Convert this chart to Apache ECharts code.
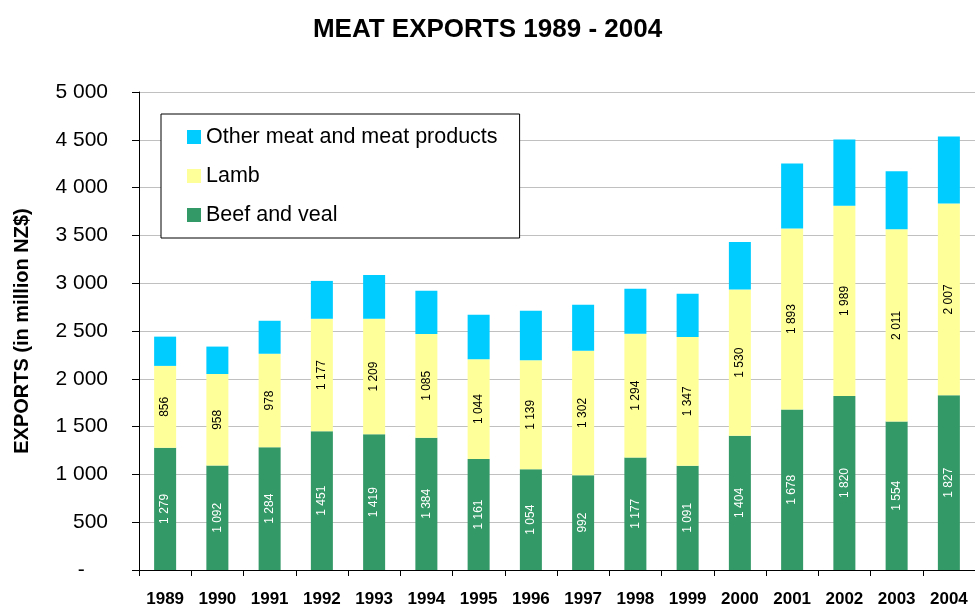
<!DOCTYPE html>
<html>
<head>
<meta charset="utf-8">
<title>Meat exports 1989 - 2004</title>
<script src="https://cdn.jsdelivr.net/npm/echarts@6/dist/echarts.min.js"></script>
<style>
  html, body { margin: 0; padding: 0; background: #fff; }
  #chart { width: 975px; height: 608px; }
</style>
</head>
<body>
<div id="chart"></div>
<script>
// data (million NZ$)
const years = ['1989', '1990', '1991', '1992', '1993', '1994', '1995', '1996',
  '1997', '1998', '1999', '2000', '2001', '2002', '2003', '2004']
const beefVeal = [1279, 1092, 1284, 1451, 1419, 1384, 1161, 1054, 992, 1177, 1091, 1404, 1678, 1820, 1554, 1827]
const lamb = [856, 958, 978, 1177, 1209, 1085, 1044, 1139, 1302, 1294, 1347, 1530, 1893, 1989, 2011, 2007]
// not labelled in the picture
const otherMeat = [306, 287, 345, 396, 459, 451, 465, 519, 480, 470, 451, 496, 682, 694, 605, 701]

const FONT = 'Arial, "Liberation Sans", sans-serif'

// 1279 -> "1 279"
function spaced (v) {
  return String(v).replace(/\B(?=(\d{3})+(?!\d))/g, ' ')
}

const chart = echarts.init(document.getElementById('chart'))

const option = {
  backgroundColor: '#fff',
  animation: false,
  title: {
    text: 'MEAT EXPORTS 1989 - 2004',
    left: 'center',
    top: 12,
    textStyle: { fontFamily: FONT, fontSize: 26, fontWeight: 'bold', color: '#000' }
  },
  legend: {
    data: ['Other meat and meat products', 'Lamb', 'Beef and veal'],
    orient: 'vertical',
    left: 161,
    top: 114,
    padding: [12, 22, 12, 26],
    itemGap: 17,
    itemWidth: 14,
    itemHeight: 14,
    icon: 'rect',
    borderColor: '#000',
    borderWidth: 1,
    backgroundColor: '#fff',
    textStyle: { fontFamily: FONT, fontSize: 21.5, color: '#000' }
  },
  grid: {
    left: 139,
    top: 92,
    width: 839,
    height: 479
  },
  xAxis: {
    type: 'category',
    data: years,
    axisLine: { lineStyle: { color: '#000', width: 1 } },
    axisTick: { show: true, interval: 0, length: 6, lineStyle: { color: '#000' } },
    axisLabel: {
      interval: 0,
      margin: 21,
      fontFamily: FONT,
      fontSize: 17,
      fontWeight: 'bold',
      color: '#000'
    }
  },
  yAxis: {
    type: 'value',
    min: 0,
    max: 5000,
    interval: 500,
    name: 'EXPORTS (in million NZ$)',
    nameLocation: 'middle',
    nameGap: 107,
    nameTextStyle: { fontFamily: FONT, fontSize: 20, fontWeight: 'bold', color: '#000' },
    axisLine: { show: true, lineStyle: { color: '#000', width: 1 } },
    axisTick: { show: true, length: 7, lineStyle: { color: '#000' } },
    splitLine: { lineStyle: { color: '#c0c0c0', width: 1 } },
    axisLabel: {
      margin: 31,
      fontFamily: FONT,
      fontSize: 21,
      color: '#000',
      formatter: function (v) {
        return v === 0 ? '-    ' : spaced(v)
      }
    }
  },
  series: [
    {
      name: 'Beef and veal',
      type: 'bar',
      stack: 'total',
      barWidth: 22,
      data: beefVeal,
      itemStyle: { color: '#339966' },
      label: {
        show: true,
        position: 'inside',
        rotate: 90,
        fontFamily: FONT,
        fontSize: 12,
        color: '#fff',
        formatter: p => spaced(p.value)
      }
    },
    {
      name: 'Lamb',
      type: 'bar',
      stack: 'total',
      barWidth: 22,
      data: lamb,
      itemStyle: { color: '#ffff99' },
      label: {
        show: true,
        position: 'inside',
        rotate: 90,
        fontFamily: FONT,
        fontSize: 12,
        color: '#000',
        formatter: p => spaced(p.value)
      }
    },
    {
      name: 'Other meat and meat products',
      type: 'bar',
      stack: 'total',
      barWidth: 22,
      data: otherMeat,
      itemStyle: { color: '#00ccff' }
    }
  ]
}

chart.setOption(option)
</script>
</body>
</html>
